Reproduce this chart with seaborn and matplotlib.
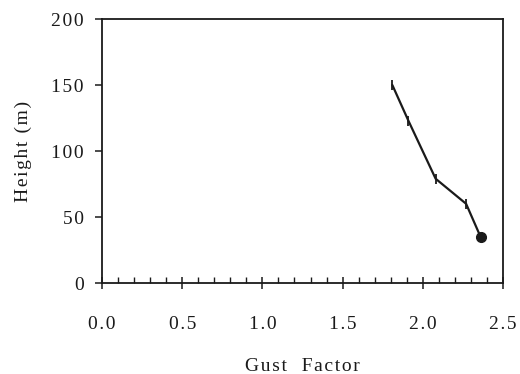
import matplotlib
matplotlib.use("Agg")
import matplotlib.pyplot as plt
import seaborn as sns
import pandas as pd

# Gust factor profile with height
gust_factor = [1.81, 1.91, 2.08, 2.27, 2.36]
height_m = [150, 123, 79, 60, 35]

x_ticks = [0.0, 0.5, 1.0, 1.5, 2.0, 2.5]
y_ticks = [0, 50, 100, 150, 200]


def spaced(s, gap="\u200a"):
    return gap.join(s)


sns.set_theme(style="ticks")
plt.rcParams["font.family"] = ["Liberation Serif", "DejaVu Serif"]

df = pd.DataFrame({"gust": gust_factor, "height": height_m})

fig = plt.figure(figsize=(5.2, 3.74), dpi=100)
ax = fig.add_axes([102 / 520, 1 - 283 / 374, (503 - 102) / 520, (283 - 19) / 374])

sns.lineplot(data=df, x="gust", y="height", sort=False, color="#1a1a1a",
             linewidth=1.6, ax=ax, estimator=None)
# vertical bar marks on the profile points, dot at the lowest level
ax.plot(df["gust"][:-1], df["height"][:-1], linestyle="none", marker="|",
        markersize=7, markeredgewidth=1.3, color="#1a1a1a")
ax.plot(df["gust"].iloc[-1:], df["height"].iloc[-1:], linestyle="none", marker="o",
        markersize=7, color="#1a1a1a")

ax.set_xlim(0, 2.5)
ax.set_ylim(0, 200)
ax.set_xticks(x_ticks)
ax.set_xticklabels([spaced(f"{v:.1f}") for v in x_ticks])
ax.set_yticks(y_ticks)
ax.set_yticklabels([spaced(str(v)) for v in y_ticks])
ax.set_xticks([i / 10 for i in range(26)], minor=True)

ax.tick_params(axis="x", which="major", direction="inout", length=9, width=1.1,
               labelsize=14, pad=19, colors="#1a1a1a")
ax.tick_params(axis="x", which="minor", direction="in", length=4, width=1.0,
               colors="#1a1a1a")
ax.tick_params(axis="y", which="major", direction="out", length=5, width=1.1,
               labelsize=14, pad=8, colors="#1a1a1a")

for side in ["left", "right", "top", "bottom"]:
    ax.spines[side].set_visible(True)
    ax.spines[side].set_linewidth(1.3)
    ax.spines[side].set_color("#1a1a1a")

ax.set_xlabel(spaced("Gust  Factor"), fontsize=14, labelpad=18, color="#1a1a1a")
ax.set_ylabel(spaced("Height (m)"), fontsize=14, labelpad=14, color="#1a1a1a")

fig.savefig("out.png", dpi=100, facecolor="white")
